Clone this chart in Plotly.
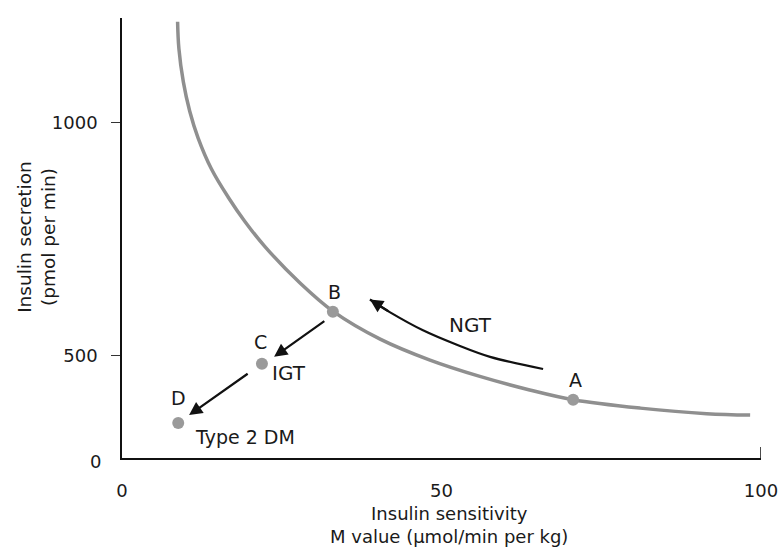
import plotly.graph_objects as go

# Hyperbolic curve
curve_x = [8.7, 8.9, 9.6, 10.6, 11.9, 14.0, 16.6, 19.2, 22.4, 27.9, 33.1, 40.4, 48.2, 56.0, 63.8, 70.6, 81.1, 91.5, 98.3]
curve_y = [1217, 1160, 1088, 1025, 968, 901, 841, 789, 734, 656, 595, 536, 491, 456, 427, 406, 388, 376, 373]

# Labelled points
pt_names = ["A", "B", "C", "D"]
pt_x = [70.6, 33.0, 21.9, 8.8]
pt_y = [406, 595, 483, 356]

# NGT arrow path
ngt_x = [65.9, 57.6, 52.4, 47.1, 41.9, 38.8]
ngt_y = [472, 498, 524, 555, 594, 621]

# Straight arrows (tail -> head)
arr_tail_x = [31.9, 19.9]
arr_tail_y = [577, 464]
arr_head_x = [23.8, 10.5]
arr_head_y = [498, 373]

# Text labels
lab_text = ["A", "B", "C", "D", "NGT", "IGT", "Type 2 DM"]
lab_x = [70.9, 33.3, 21.6, 8.8, 54.5, 26.1, 19.2]
lab_y = [448, 637, 530, 410, 567, 464, 326]

x_ticks = [0, 50, 100]
y_ticks = [500, 1000]

FONT = "DejaVu Sans, Arial, sans-serif"
TXT = "#1a1a1a"

fig = go.Figure()
fig.add_trace(go.Scatter(x=curve_x, y=curve_y, mode="lines",
                         line=dict(color="#8f8f8f", width=3.5, shape="spline", smoothing=1.0),
                         hoverinfo="skip"))
fig.add_trace(go.Scatter(x=ngt_x, y=ngt_y, mode="lines",
                         line=dict(color="#111111", width=2.2, shape="spline"),
                         hoverinfo="skip"))
fig.add_trace(go.Scatter(x=pt_x, y=pt_y, mode="markers", text=pt_names,
                         marker=dict(color="#9a9a9a", size=12, line=dict(width=0))))

anns = []
# NGT arrowhead
anns.append(dict(x=ngt_x[-1], y=ngt_y[-1], ax=ngt_x[-2], ay=ngt_y[-2], xref="x", yref="y",
                 axref="x", ayref="y", showarrow=True, arrowhead=2, arrowsize=1.2,
                 arrowwidth=2.2, arrowcolor="#111111", text=""))
for tx, ty, hx, hy in zip(arr_tail_x, arr_tail_y, arr_head_x, arr_head_y):
    anns.append(dict(x=hx, y=hy, ax=tx, ay=ty, xref="x", yref="y", axref="x", ayref="y",
                     showarrow=True, arrowhead=2, arrowsize=1.2, arrowwidth=2.2,
                     arrowcolor="#111111", text=""))
for t, x, y in zip(lab_text, lab_x, lab_y):
    size = 20 if t in ("NGT", "IGT") else 19
    anns.append(dict(x=x, y=y, xref="x", yref="y", text=t, showarrow=False,
                     xanchor="center", yanchor="middle",
                     font=dict(family=FONT, size=size, color=TXT)))
# y-axis zero label
anns.append(dict(x=-0.042, y=-0.007, xref="paper", yref="paper", text="0", showarrow=False,
                 xanchor="center", yanchor="middle",
                 font=dict(family=FONT, size=18, color=TXT)))
# axis titles
anns.append(dict(x=0.512, y=-0.152, xref="paper", yref="paper",
                 text="Insulin sensitivity<br>M value (µmol/min per kg)", showarrow=False,
                 xanchor="center", yanchor="middle",
                 font=dict(family=FONT, size=18, color=TXT)))
anns.append(dict(x=-0.135, y=0.502, xref="paper", yref="paper", textangle=-90,
                 text="Insulin secretion<br>(pmol per min)", showarrow=False,
                 xanchor="center", yanchor="middle",
                 font=dict(family=FONT, size=18.5, color=TXT)))

fig.update_layout(
    width=781, height=559,
    margin=dict(l=122, r=20, t=18, b=101, autoexpand=False),
    paper_bgcolor="white", plot_bgcolor="white",
    showlegend=False,
    annotations=anns,
    shapes=[dict(type="line", xref="x", yref="paper", x0=100, x1=100, y0=0, y1=0.025,
                 line=dict(color="#111111", width=1.5))],
    xaxis=dict(range=[0, 100], tickvals=x_ticks, ticktext=[str(v) for v in x_ticks],
               showgrid=False, zeroline=False, showline=True, linecolor="#111111",
               linewidth=1.5, ticks="", ticklabelstandoff=16, automargin=False,
               tickfont=dict(family=FONT, size=18, color=TXT)),
    yaxis=dict(range=[281, 1225], tickvals=y_ticks, ticktext=[str(v) for v in y_ticks],
               showgrid=False, zeroline=False, showline=True, linecolor="#111111",
               linewidth=1.5, ticks="outside", ticklen=9, tickcolor="#333333",
               ticklabelstandoff=10, automargin=False,
               tickfont=dict(family=FONT, size=18, color=TXT)),
)

fig.write_html("out.html", config={"displayModeBar": False},
               post_script="document.body.style.margin='0';document.body.style.overflow='hidden';")
